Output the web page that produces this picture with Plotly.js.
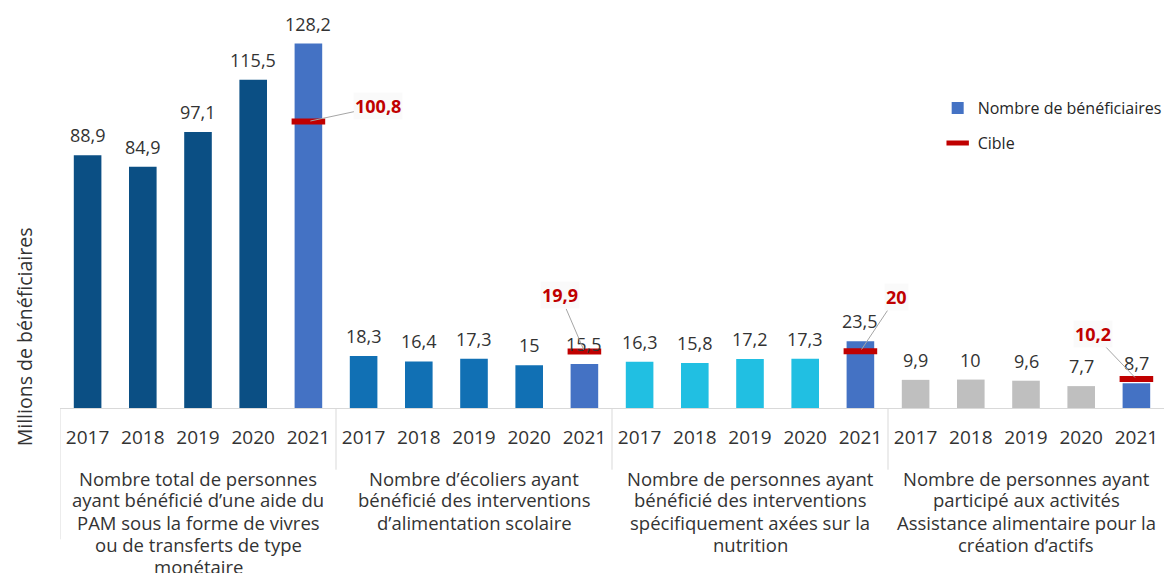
<!DOCTYPE html>
<html>
<head>
<meta charset="utf-8">
<script src="https://cdn.plot.ly/plotly-3.0.1.min.js"></script>
<style>html,body{margin:0;padding:0;background:#fff;}#chart{width:1167px;height:573px;}</style>
</head>
<body>
<div id="chart"></div>
<script>
// ---- data ----
const years = ['2017', '2018', '2019', '2020', '2021'];
const groupLabels = [
  'Nombre total de personnes<br>ayant bénéficié d’une aide du<br>PAM sous la forme de vivres<br>ou de transferts de type<br>monétaire',
  'Nombre d’écoliers ayant<br>bénéficié des interventions<br>d’alimentation scolaire',
  'Nombre de personnes ayant<br>bénéficié des interventions<br>spécifiquement axées sur la<br>nutrition',
  'Nombre de personnes ayant<br>participé aux activités<br>Assistance alimentaire pour la<br>création d’actifs'
];
const valuesTotal = [88.9, 84.9, 97.1, 115.5, 128.2];
const valuesScolaire = [18.3, 16.4, 17.3, 15, 15.5];
const valuesNutrition = [16.3, 15.8, 17.2, 17.3, 23.5];
const valuesActifs = [9.9, 10, 9.6, 7.7, 8.7];
const targets2021 = [100.8, 19.9, 20, 10.2];
const groupColors = ['#0B4F84', '#1170B4', '#21BFE2', '#BFBFBF'];
const color2021 = '#4472C4';
const targetColor = '#C00000';
const seriesName = 'Nombre de bénéficiaires';
const targetName = 'Cible';
const yTitle = 'Millions de bénéficiaires';

// ---- build ----
const groups = [valuesTotal, valuesScolaire, valuesNutrition, valuesActifs];
const fmt = v => String(v).replace('.', ',');
const histX = [], histY = [], histC = [], curX = [], curY = [];
const allX = [], allY = [];
const tickvals = [], ticktext = [];
groups.forEach((vals, g) => {
  vals.forEach((v, i) => {
    const x = g * years.length + i;
    tickvals.push(x); ticktext.push(years[i]);
    allX.push(x); allY.push(v);
    if (i === years.length - 1) { curX.push(x); curY.push(v); }
    else { histX.push(x); histY.push(v); histC.push(groupColors[g]); }
  });
});

const FAMILY = 'Open Sans, sans-serif';
const valueFont = {family: FAMILY, size: 18, color: '#333333'};
const axisFont = {family: FAMILY, size: 19, color: '#333333'};
const PLOT_H = 398; // plot height in px (573 - 10 - 165)

const traces = [
  {
    type: 'bar', x: histX, y: histY, width: 0.5, showlegend: false,
    marker: {color: histC}, hoverinfo: 'skip'
  },
  {
    type: 'bar', x: curX, y: curY, width: 0.5, name: seriesName, legendgroup: 'a',
    marker: {color: color2021}, hoverinfo: 'skip'
  },
  {
    type: 'scatter', mode: 'markers', x: curX, y: targets2021, name: targetName, legendgroup: 'b',
    marker: {symbol: 'line-ew-open', size: 24, color: targetColor, line: {width: 6, color: targetColor}},
    cliponaxis: false, hoverinfo: 'skip'
  }
];

const annotations = [];
// value labels above bars
allX.forEach((x, k) => {
  annotations.push({
    x: x, y: allY[k], xref: 'x', yref: 'y', xanchor: 'center', yanchor: 'bottom',
    yshift: 6, showarrow: false, text: fmt(allY[k]), font: valueFont
  });
});
// target labels with leader lines
const targetOffsets = [[70, -15], [-24, -56], [36, -54], [-43, -45]];
targets2021.forEach((t, g) => {
  annotations.push({
    x: curX[g], y: t, xref: 'x', yref: 'y',
    text: '<b>' + fmt(t) + '</b>',
    font: {family: FAMILY, size: 18, color: targetColor},
    showarrow: true, arrowhead: 0, arrowwidth: 1, arrowcolor: '#A6A6A6',
    ax: targetOffsets[g][0], ay: targetOffsets[g][1], standoff: 2,
    bgcolor: 'rgba(250,250,250,0.9)'
  });
});
// group labels, one annotation per line for tight line spacing
groupLabels.forEach((lbl, g) => {
  lbl.split('<br>').forEach((line, k) => {
    annotations.push({
      x: g * years.length + 2, y: -(70 + 22 * k) / PLOT_H, xref: 'x', yref: 'paper',
      xanchor: 'center', yanchor: 'middle', showarrow: false,
      text: line, align: 'center', font: {family: FAMILY, size: 18.5, color: '#333333'}
    });
  });
});
// y axis title
annotations.push({
  x: -0.0325, y: 0.178, xref: 'paper', yref: 'paper', xanchor: 'center', yanchor: 'middle',
  textangle: -90, showarrow: false, text: yTitle, font: {family: FAMILY, size: 19.5, color: '#333333'}
});

const shapes = [];
for (let g = 0; g < groups.length; g++) {
  shapes.push({
    type: 'line', xref: 'x', yref: 'paper',
    x0: g * years.length - 0.5, x1: g * years.length - 0.5,
    y0: 0, y1: g === 0 ? -0.33 : -0.155,
    line: {color: '#D9D9D9', width: 1}
  });
}

const layout = {
  width: 1167, height: 573,
  margin: {l: 60, r: 0, t: 10, b: 165},
  paper_bgcolor: '#ffffff', plot_bgcolor: '#ffffff',
  barmode: 'overlay',
  font: {family: FAMILY, color: '#333333'},
  xaxis: {
    range: [-0.5, 19.5], tickvals: tickvals, ticktext: ticktext,
    showgrid: false, zeroline: false, showline: true, linecolor: '#D9D9D9', linewidth: 1,
    ticks: '', ticklabelstandoff: 12, tickfont: axisFont, fixedrange: true
  },
  yaxis: {
    range: [0, 140], showgrid: false, zeroline: false, showline: false,
    showticklabels: false, ticks: '', fixedrange: true
  },
  legend: {
    x: 0.795, y: 0.796, xanchor: 'left', yanchor: 'top',
    font: {family: FAMILY, size: 16, color: '#262626'},
    bgcolor: 'rgba(0,0,0,0)', traceorder: 'grouped', tracegroupgap: 11
  },
  annotations: annotations,
  shapes: shapes,
  showlegend: true
};

Plotly.newPlot('chart', traces, layout, {displayModeBar: false, staticPlot: true});
</script>
</body>
</html>
